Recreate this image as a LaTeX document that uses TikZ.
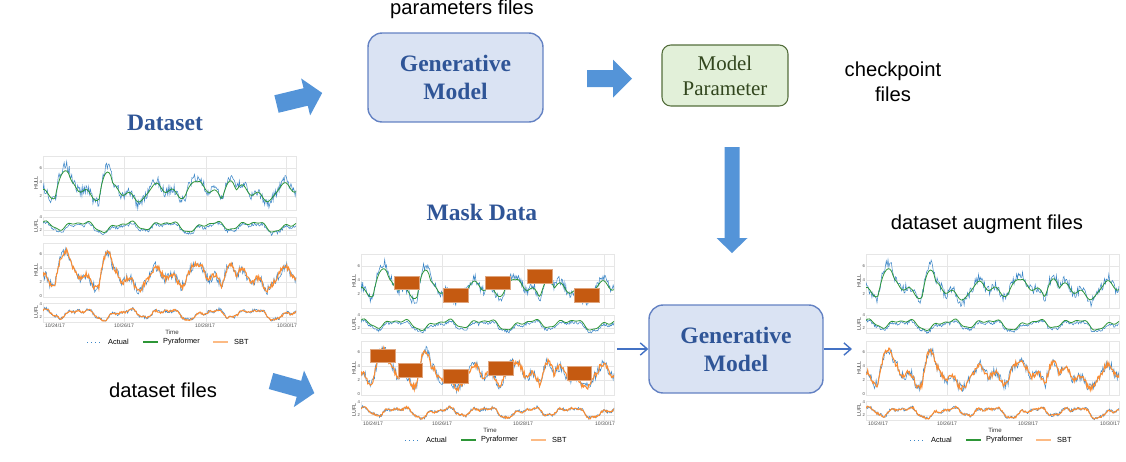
\documentclass[tikz,border=0pt]{standalone}
\usepackage{fontspec}
\setmainfont{Liberation Serif}
\setsansfont{Liberation Sans}
\usetikzlibrary{arrows.meta}
\definecolor{titleblue}{RGB}{47,85,151}
\definecolor{boxblue}{RGB}{218,227,243}
\definecolor{boxblueline}{RGB}{100,130,195}
\definecolor{boxgreen}{RGB}{226,240,217}
\definecolor{boxgreenline}{RGB}{84,110,60}
\definecolor{paramtext}{RGB}{50,70,30}
\definecolor{arrowblue}{RGB}{84,148,216}
\definecolor{linkblue}{RGB}{68,114,196}
\definecolor{maskorange}{RGB}{197,90,17}
\definecolor{actualblue}{RGB}{60,135,200}
\definecolor{pyragreen}{RGB}{45,150,55}
\definecolor{sbtorange}{RGB}{250,140,50}
\definecolor{gridgray}{RGB}{230,230,230}
\tikzset{
  genbox/.style={draw=boxblueline, fill=boxblue, line width=0.8pt, rounded corners=8pt, font=\bfseries\fontsize{13.4}{16}\selectfont, text=titleblue, align=center},
  parambox/.style={draw=boxgreenline, fill=boxgreen, line width=0.6pt, rounded corners=5pt, font=\fontsize{11.9}{14.2}\selectfont, text=paramtext, align=center},
  heading/.style={font=\bfseries\fontsize{13.4}{15}\selectfont, text=titleblue},
  note/.style={font=\sffamily\fontsize{11.5}{14.2}\selectfont, align=center},
  blockarrow/.style={fill=arrowblue},
  flow/.style={draw=linkblue, line width=0.8pt, -{Straight Barb[length=4pt,width=7pt]}},
  panel/.style={draw=gridgray, line width=0.3pt, fill=white},
  gridln/.style={draw=gridgray, line width=0.3pt},
  actual/.style={draw=actualblue, line width=0.3pt},
  pyra/.style={draw=pyragreen, line width=0.45pt},
  sbt/.style={draw=sbtorange, line width=0.6pt},
  ticklab/.style={font=\sffamily\fontsize{2.4}{3}\selectfont, text=black!70, inner sep=0.4pt},
  axislab/.style={font=\sffamily\fontsize{3}{3.5}\selectfont, text=black!80, inner sep=0pt},
  legtext/.style={font=\sffamily\fontsize{4.2}{5}\selectfont, inner sep=0.5pt},
  mask/.style={fill=maskorange, draw=maskorange!55, line width=0.3pt},
}

\begin{document}
\begin{tikzpicture}[x=0.02cm, y=-0.02cm,
  declare function={
    bump(\t,\c,\w)=max(0,1-((\t-\c)/\w)*((\t-\c)/\w));
    hull(\t)=2.6+1.1*sin(8.4*\t+200)+0.6*sin(16.8*\t+40)+0.3*sin(25.2*\t+70)+0.35*sin(2.9*\t+30)
      +3.0*bump(\t,20,8)+3.4*bump(\t,63,7)+3.0*bump(\t,186,7)+1.0*bump(\t,148,6);
    lufl(\t)=2.5+0.55*sin(8.4*\t+120)+0.3*sin(16.8*\t+10)+0.2*sin(4.2*\t)+0.15*sin(33*\t);
  }]
\useasboundingbox (0,0) rectangle (1126,461);
\pgfmathsetseed{17}

% the three charts
\foreach \cx/\cy in {43/156, 361/254, 866/254}{
  \begin{scope}[shift={(\cx,\cy)}]
    \foreach \py/\ph in {0/54, 61/18, 87/54, 147/19}{
      \draw[panel] (0,\py) rectangle (253,{\py+\ph});
      \foreach \gx in {81,163,243} \draw[gridln] (\gx,\py) -- (\gx,{\py+\ph});
    }
    \foreach \v in {2,4,6}{
      \draw[gridln] (0,{54-7*\v}) -- (253,{54-7*\v});
      \draw[gridln] (0,{140-7*\v}) -- (253,{140-7*\v});
      \node[ticklab, anchor=east] at (0,{54-7*\v}) {\v};
    }
    \foreach \v in {0,2,4,6} \node[ticklab, anchor=east] at (0,{140-7*\v}) {\v};
    \draw[gridln] (0,74) -- (253,74);
    \draw[gridln] (0,161) -- (253,161);
    \foreach \v in {2,4}{
      \node[ticklab, anchor=east] at (0,{61+(4-\v)*6.5}) {\v};
      \node[ticklab, anchor=east] at (0,{148+(4-\v)*6.5}) {\v};
    }
    \node[axislab, rotate=90] at (-7,27) {HULL};
    \node[axislab, rotate=90] at (-7,70) {LUFL};
    \node[axislab, rotate=90] at (-7,114) {HULL};
    \node[axislab, rotate=90] at (-7,156) {LUFL};
    % curves
    \begin{scope}
      \clip (0,0) rectangle (253,54);
      \draw[actual] plot[domain=0:253, samples=300] (\x,{54-7*(hull(\x)+1.4*rnd-0.7)});
      \draw[pyra] plot[domain=0:253, samples=150, smooth] (\x,{54-7*(0.8*hull(\x)+0.5)});
    \end{scope}
    \begin{scope}
      \clip (0,61) rectangle (253,79);
      \draw[actual] plot[domain=0:253, samples=300] (\x,{61+6.5*(4-(lufl(\x)-0.35+0.5*rnd))});
      \draw[pyra] plot[domain=0:253, samples=150, smooth] (\x,{61+6.5*(4-(lufl(\x)+0.15))});
    \end{scope}
    \begin{scope}
      \clip (0,87) rectangle (253,141);
      \draw[actual] plot[domain=0:253, samples=300] (\x,{140-7*(hull(\x)+1.4*rnd-0.7)});
      \draw[sbt] plot[domain=0:253, samples=300] (\x,{140-7*(hull(\x)+0.8*rnd-0.4)});
    \end{scope}
    \begin{scope}
      \clip (0,147) rectangle (253,166);
      \draw[actual] plot[domain=0:253, samples=300] (\x,{148+6.5*(4-(lufl(\x)-0.25+0.5*rnd))});
      \draw[sbt] plot[domain=0:253, samples=300] (\x,{148+6.5*(4-(lufl(\x)+0.3*rnd-0.15))});
    \end{scope}
    % axis
    \foreach \lx/\lt in {12/{10/24/17}, 81/{10/26/17}, 162/{10/28/17}, 244/{10/30/17}}
      \node[ticklab, font=\sffamily\fontsize{2.9}{3}\selectfont] at (\lx,170) {\lt};
    \node[axislab, font=\sffamily\fontsize{3.5}{4}\selectfont] at (129,176) {Time};
    % legend
    \draw[actual, dotted, line width=0.5pt] (44,186) -- (60,186);
    \node[legtext, anchor=west] at (64,186) {Actual};
    \draw[pyra, line width=0.7pt] (100,186) -- (115,186);
    \node[legtext, anchor=west] at (119,186) {Pyraformer};
    \draw[sbt, line width=0.7pt, opacity=0.6] (170,186) -- (185,186);
    \node[legtext, anchor=west] at (190,186) {SBT};
  \end{scope}
}

% masked blocks
\foreach \ax/\ay/\bx/\by in {394/276/419/289, 443/288/468/302, 485/276/510/289, 527/269/552/283, 574/288/599/302,
    370/349/395/362, 398/363/422/377, 443/369/468/383, 488/361/513/375, 567/366/591/380}
  \draw[mask] (\ax,\ay) rectangle (\bx,\by);

% boxes
\node[genbox, minimum width=3.5cm, minimum height=1.78cm] (genA) at (455.5,77.5) {Generative\\Model};
\node[parambox, minimum width=2.52cm, minimum height=1.22cm] (param) at (725,75.5) {Model\\Parameter};
\node[genbox, minimum width=3.48cm, minimum height=1.76cm] (genB) at (736,349) {Generative\\Model};

% texts
\node[note] (paramfiles) at (462,9) {parameters files};
\node[note] (ckpt) at (893,82) {checkpoint\\files};
\node[note] (augfiles) at (987,224) {dataset augment files};
\node[note] (datafiles) at (163,390) {dataset files};
\node[heading] (dstitle) at (165,123) {Dataset};
\node[heading] (masktitle) at (482,212) {Mask Data};

% block arrows
\fill[blockarrow, shift={(276.5,104)}, rotate=13.6] (0,-9) -- (30,-9) -- (30,-19) -- (47,0) -- (30,19) -- (30,9) -- (0,9) -- cycle;
\fill[blockarrow, shift={(587,78.5)}] (0,-8.5) -- (26,-8.5) -- (26,-19) -- (45,0) -- (26,19) -- (26,8.5) -- (0,8.5) -- cycle;
\fill[blockarrow, shift={(732,147)}, rotate=-90] (0,-7.5) -- (91,-7.5) -- (91,-15.5) -- (106,0) -- (91,15.5) -- (91,7.5) -- (0,7.5) -- cycle;
\fill[blockarrow, shift={(271,381)}, rotate=-15.6] (0,-8.3) -- (29,-8.3) -- (29,-19) -- (45,0) -- (29,19) -- (29,8.3) -- (0,8.3) -- cycle;

% thin connectors
\coordinate (maskout) at (617,349);
\coordinate (augin) at (852,349);
\draw[flow] (maskout) -- (genB.west);
\draw[flow] (genB.east) -- (augin);
\end{tikzpicture}
\end{document}
